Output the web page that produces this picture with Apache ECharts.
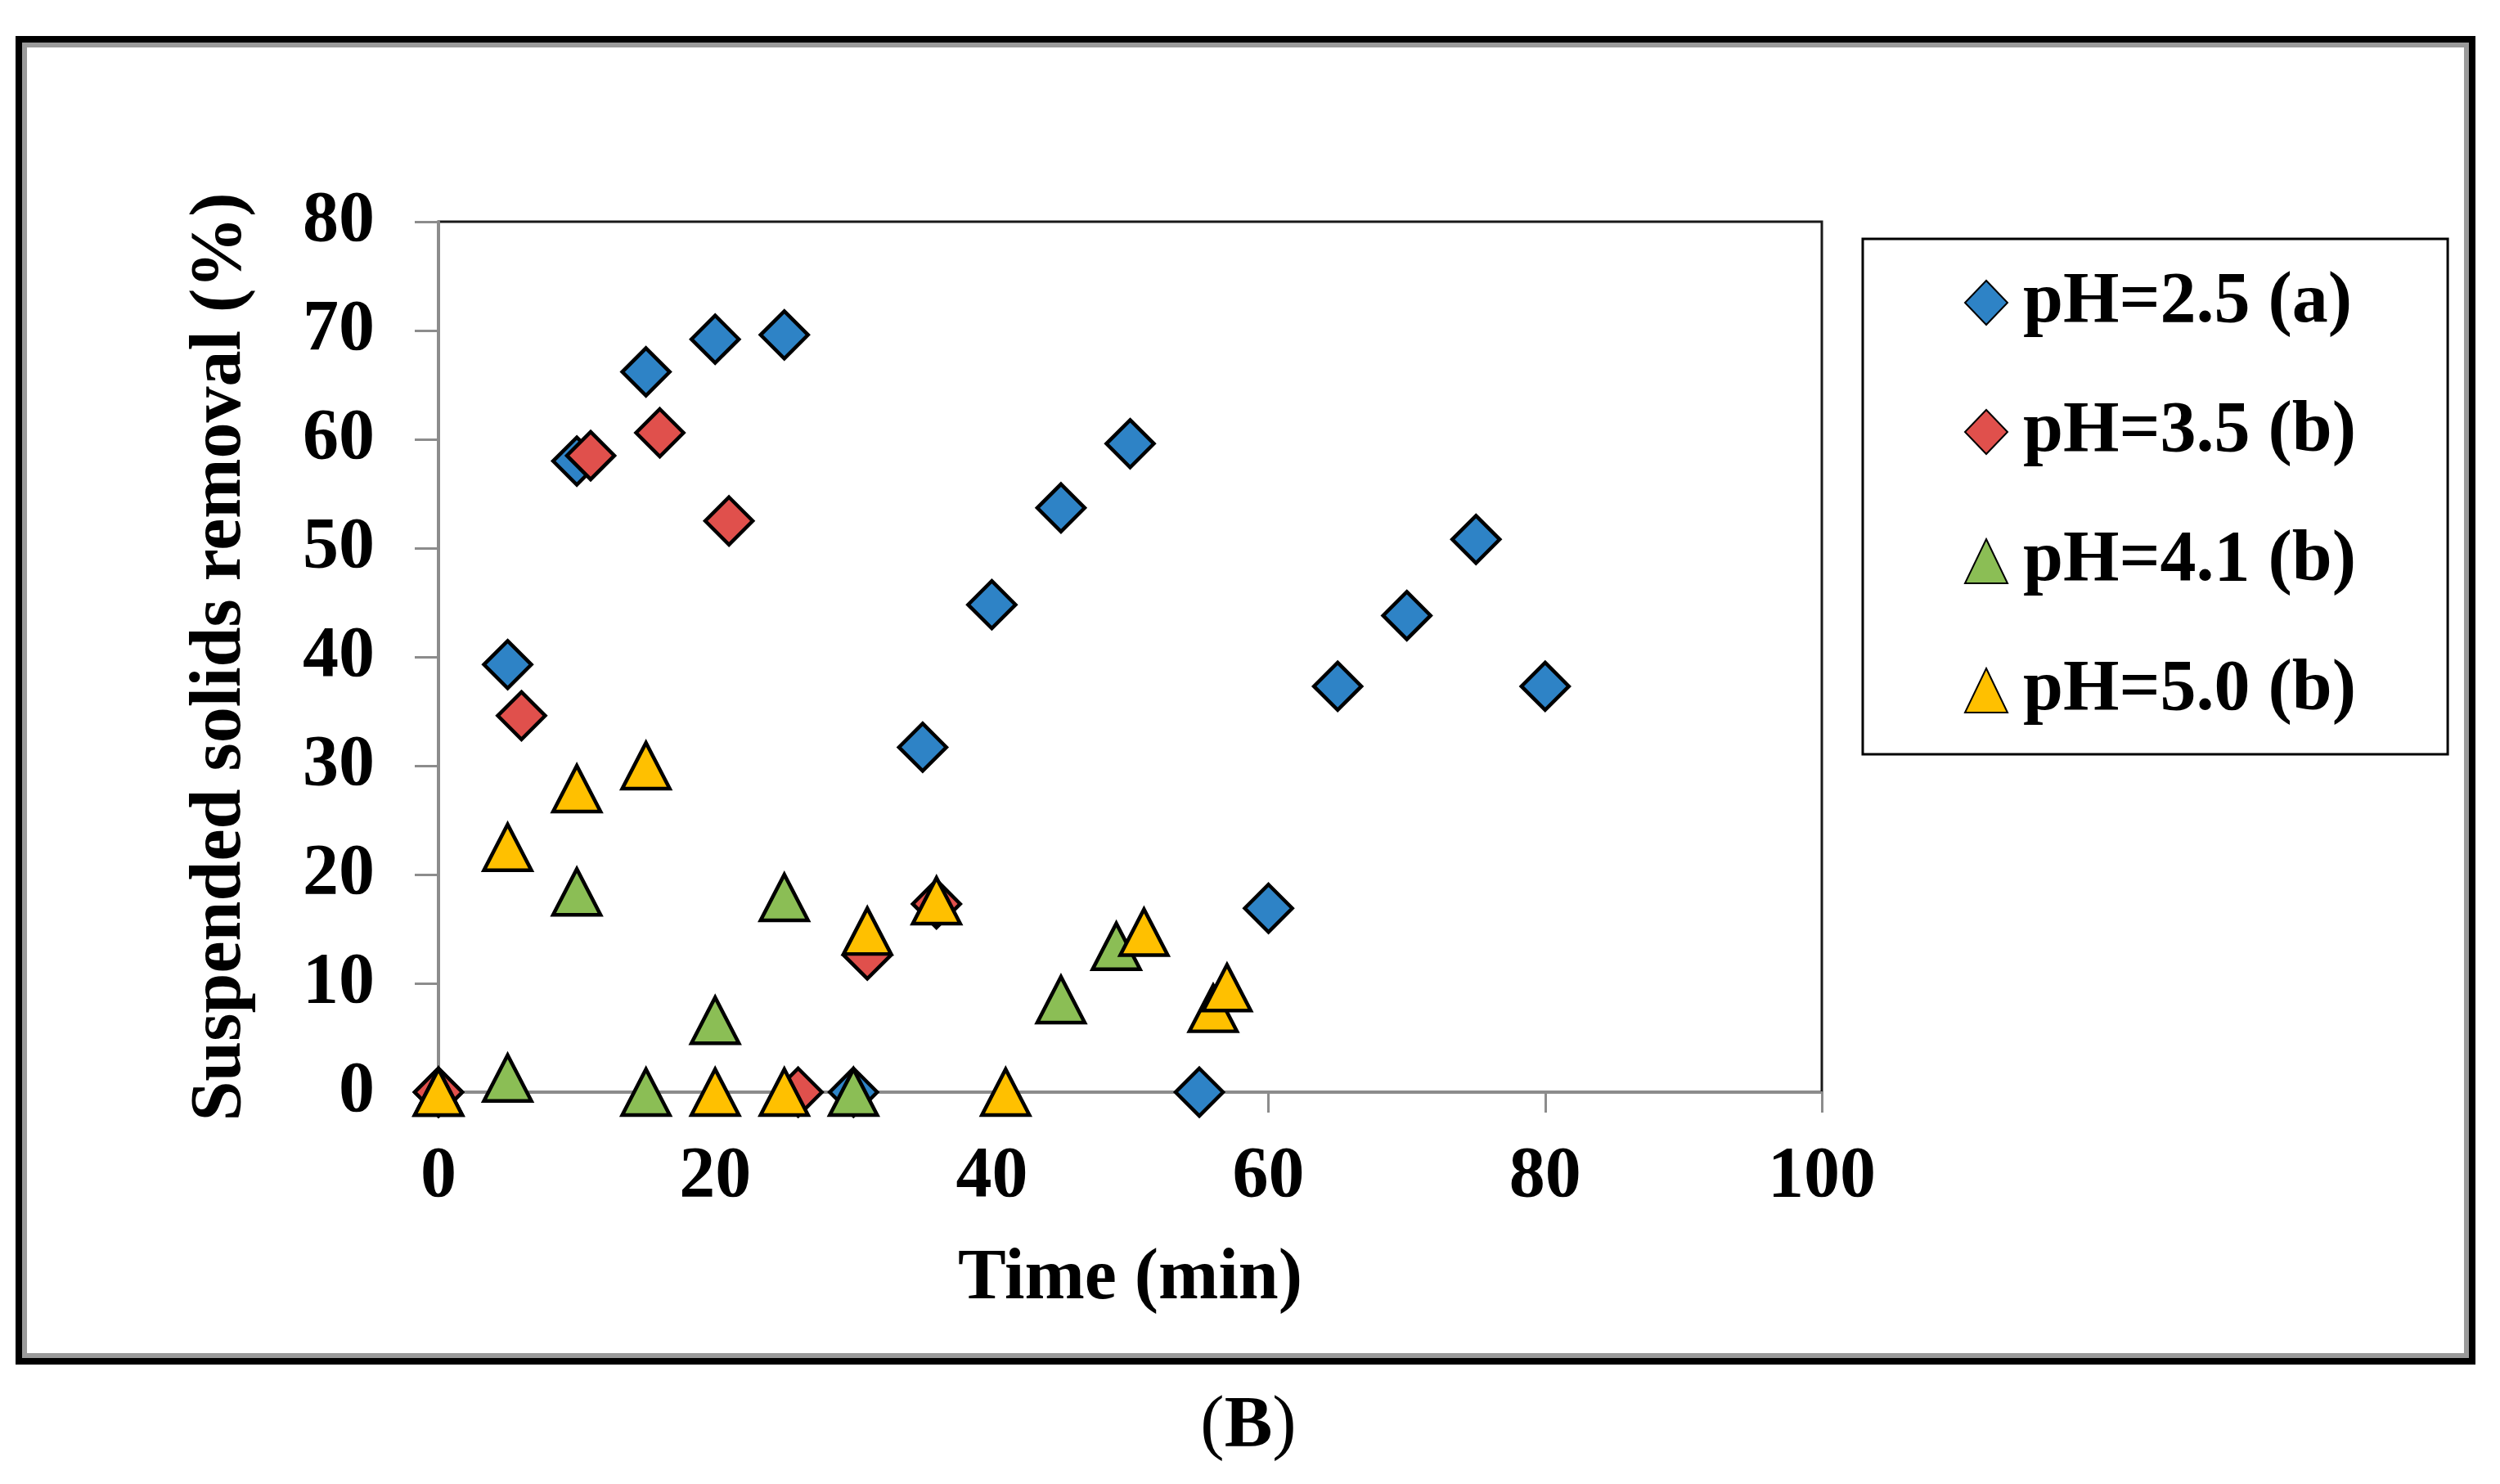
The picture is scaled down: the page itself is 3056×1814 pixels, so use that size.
<!DOCTYPE html>
<html>
<head>
<meta charset="utf-8">
<script src="https://cdn.jsdelivr.net/npm/echarts@6/dist/echarts.min.js"></script>
<style>
  html, body { margin: 0; padding: 0; background: #fff; }
  #chart { width: 3056px; height: 1814px; }
</style>
</head>
<body>
<div id="chart"></div>
<script>
// values (time in min, removal in %)
var timeA = [0, 5, 10, 15, 20, 25, 30, 35, 40, 45, 50, 55, 60, 65, 70, 75, 80]
var removalA = [0, 39.3, 58, 66.2, 69.2, 69.6, 0, 31.7, 44.8, 53.7, 59.6, 0, 16.9, 37.3, 43.8, 50.8, 37.3]
var timeB = [0, 6, 11, 16, 21, 26, 31, 36]
var removalB = [0, 34.6, 58.5, 60.6, 52.5, 0, 12.6, 17.3]
var timeC = [0, 5, 10, 15, 20, 25, 30, 45, 49]
var removalC = [0, 1.3, 18.4, 0, 6.6, 17.9, 0, 8.5, 13.4]
var timeD = [0, 5, 10, 15, 20, 25, 31, 36, 41, 51, 56, 57]
var removalD = [0, 22.5, 27.9, 30, 0, 0, 14.8, 17.6, 0, 14.7, 7.7, 9.6]

var seriesNames = ['pH=2.5 (a)', 'pH=3.5 (b)', 'pH=4.1 (b)', 'pH=5.0 (b)']
var xTicks = [0, 20, 40, 60, 80, 100]
var yTicks = [0, 10, 20, 30, 40, 50, 60, 70, 80]

var font = 'Liberation Serif'
var axisGray = '#8c8c8c'

function pairs (xs, ys) {
  return xs.map(function (x, i) { return [x, ys[i]] })
}

function scatter (name, xs, ys, symbol, color) {
  var size = symbol === 'diamond' ? [58, 58] : [58, 56]
  return {
    name: name,
    type: 'scatter',
    symbol: symbol,
    symbolSize: size,
    clip: false,
    itemStyle: { color: color, borderColor: '#000', borderWidth: 4.5, opacity: 1 },
    emphasis: { disabled: true },
    data: pairs(xs, ys)
  }
}

var myChart = echarts.init(document.getElementById('chart'))
var option = {
  backgroundColor: '#fff',
  animation: false,
  graphic: [
    { type: 'rect', shape: { x: 23, y: 48, width: 2999, height: 1616 }, style: { fill: 'none', stroke: '#000', lineWidth: 8 }, z: 100 },
    { type: 'rect', shape: { x: 30, y: 55, width: 2985, height: 1602 }, style: { fill: 'none', stroke: '#9a9a9a', lineWidth: 6 }, z: 100 },
    {
      type: 'text',
      x: 1526,
      y: 1744,
      style: {
        text: '{n|(}{b|B}{n|)}',
        align: 'center',
        verticalAlign: 'middle',
        rich: {
          n: { fontFamily: font, fontSize: 88, fontWeight: 'normal', fill: '#000', lineHeight: 88 },
          b: { fontFamily: font, fontSize: 88, fontWeight: 'bold', fill: '#000', lineHeight: 88 }
        }
      }
    }
  ],
  legend: {
    data: seriesNames,
    orient: 'vertical',
    left: 2277,
    top: 292,
    padding: [34, 112, 34, 124],
    itemGap: 70,
    itemWidth: 52,
    itemHeight: 54,
    borderColor: '#000',
    borderWidth: 3,
    itemStyle: { borderWidth: 2, opacity: 1 },
    textStyle: { fontFamily: font, fontWeight: 'bold', fontSize: 88, lineHeight: 88, color: '#000', padding: [0, 0, 0, 14] }
  },
  grid: {
    left: 536,
    right: 829,
    top: 271,
    bottom: 479,
    show: true,
    borderColor: '#1a1a1a',
    borderWidth: 3
  },
  xAxis: {
    type: 'value',
    min: xTicks[0],
    max: xTicks[xTicks.length - 1],
    interval: 20,
    name: 'Time (min)',
    nameLocation: 'middle',
    nameGap: 185,
    nameTextStyle: { fontFamily: font, fontWeight: 'bold', fontSize: 88, lineHeight: 88, color: '#000' },
    axisLine: { show: true, onZero: false, lineStyle: { color: axisGray, width: 3 } },
    axisTick: { show: true, inside: false, length: 25, lineStyle: { color: axisGray, width: 3 } },
    axisLabel: { margin: 60, fontFamily: font, fontWeight: 'bold', fontSize: 88, lineHeight: 88, color: '#000' },
    splitLine: { show: false }
  },
  yAxis: {
    type: 'value',
    min: yTicks[0],
    max: yTicks[yTicks.length - 1],
    interval: 10,
    name: 'Suspended solids removal (%)',
    nameLocation: 'middle',
    nameGap: 222,
    nameTextStyle: { fontFamily: font, fontWeight: 'bold', fontSize: 88, lineHeight: 88, color: '#000' },
    axisLine: { show: true, onZero: false, lineStyle: { color: axisGray, width: 3 } },
    axisTick: { show: true, inside: false, length: 29, lineStyle: { color: axisGray, width: 3 } },
    axisLabel: { margin: 78, fontFamily: font, fontWeight: 'bold', fontSize: 88, lineHeight: 88, color: '#000' },
    splitLine: { show: false }
  },
  series: [
    scatter(seriesNames[0], timeA, removalA, 'diamond', '#2E83C6'),
    scatter(seriesNames[1], timeB, removalB, 'diamond', '#E0504C'),
    scatter(seriesNames[2], timeC, removalC, 'triangle', '#8BBE55'),
    scatter(seriesNames[3], timeD, removalD, 'triangle', '#FFC000')
  ]
}
myChart.setOption(option)
</script>
</body>
</html>
